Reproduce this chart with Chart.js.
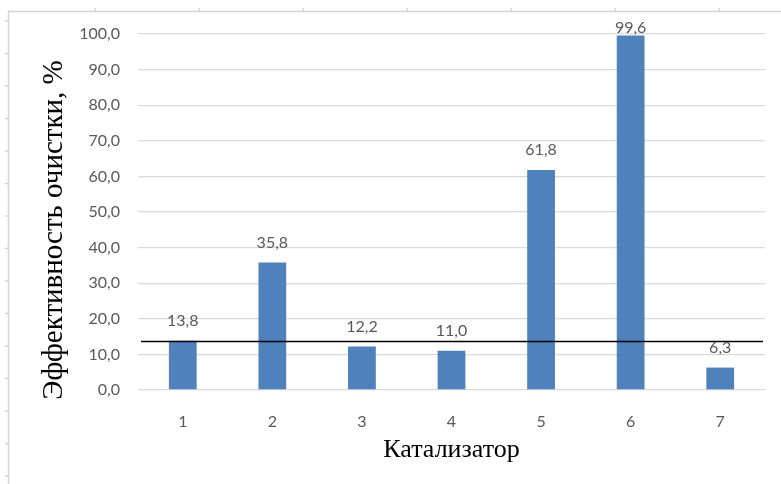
<!DOCTYPE html>
<html>
<head>
<meta charset="utf-8">
<script src="https://cdn.jsdelivr.net/npm/chart.js@4/dist/chart.umd.min.js"></script>
<style>
  html, body { margin: 0; padding: 0; background: #fff; }
  #wrap { width: 781px; height: 484px; position: relative; }
</style>
</head>
<body>
<div id="wrap"><canvas id="chart"></canvas></div>
<script>
// data
const categories = ['1', '2', '3', '4', '5', '6', '7']
const efficiency = [13.8, 35.8, 12.2, 11.0, 61.8, 99.6, 6.3]
const yTicks = [0, 10, 20, 30, 40, 50, 60, 70, 80, 90, 100]
const threshold = 13.8
const yTitle = 'Эффективность очистки, %'
const xTitle = 'Катализатор'

const fmt = v => v.toFixed(1).replace('.', ',')

// page frame around the picture (ruler-like lines of the document)
const framePlugin = {
  id: 'frame',
  beforeDraw(chart) {
    const ctx = chart.ctx
    ctx.save()
    ctx.strokeStyle = '#d4d4d4'
    ctx.lineWidth = 1.5
    ctx.beginPath()
    ctx.moveTo(8, 11.5)
    ctx.lineTo(chart.width, 11.5)
    ctx.moveTo(8.5, 11)
    ctx.lineTo(8.5, chart.height)
    for (let x = 95; x < chart.width; x += 104) {
      ctx.moveTo(x, 8)
      ctx.lineTo(x, 11)
    }
    for (let y = 21; y < chart.height; y += 32.5) {
      ctx.moveTo(5, y)
      ctx.lineTo(8, y)
    }
    ctx.stroke()
    ctx.restore()
  }
}

const extrasPlugin = {
  id: 'extras',
  afterDatasetsDraw(chart) {
    const ctx = chart.ctx
    const area = chart.chartArea
    const y = chart.scales.y
    ctx.save()
    // horizontal reference line
    const ly = Math.round(y.getPixelForValue(threshold)) + 0.5
    ctx.strokeStyle = '#000'
    ctx.lineWidth = 1.5
    ctx.beginPath()
    ctx.moveTo(area.left + 3, ly)
    ctx.lineTo(area.right - 2, ly)
    ctx.stroke()
    // value labels
    ctx.font = '16px Lato'
    ctx.fillStyle = '#595959'
    ctx.textAlign = 'center'
    ctx.textBaseline = 'middle'
    chart.getDatasetMeta(0).data.forEach((bar, i) => {
      ctx.fillText(fmt(efficiency[i]), bar.x, Math.max(bar.y - 20, 28))
    })
    // y axis title
    ctx.font = '29px "Liberation Serif"'
    ctx.fillStyle = '#000'
    ctx.translate(54, (area.top + area.bottom) / 2 + 18)
    ctx.rotate(-Math.PI / 2)
    ctx.fillText(yTitle, 0, 0)
    ctx.restore()
  }
}

new Chart(document.getElementById('chart'), {
  type: 'bar',
  data: {
    labels: categories,
    datasets: [{
      data: efficiency,
      backgroundColor: '#4f81bd',
      borderWidth: 0,
      barPercentage: 0.31,
      categoryPercentage: 1
    }]
  },
  options: {
    animation: false,
    responsive: true,
    maintainAspectRatio: false,
    layout: {
      padding: { left: 0, right: 16, top: 34, bottom: 0 }
    },
    plugins: {
      legend: { display: false },
      tooltip: { enabled: false }
    },
    scales: {
      x: {
        grid: { display: false },
        border: { display: false },
        ticks: {
          color: '#595959',
          font: { family: 'Lato', size: 16 },
          padding: 14
        },
        title: {
          display: true,
          text: xTitle,
          color: '#000',
          font: { family: 'Liberation Serif', size: 26 },
          padding: { top: 0, bottom: 18 }
        },
        afterFit(scale) { scale.height = 94 }
      },
      y: {
        min: 0,
        max: 100,
        afterBuildTicks(scale) {
          scale.ticks = yTicks.map(v => ({ value: v }))
        },
        grid: { color: '#d9d9d9', lineWidth: 1.3, drawTicks: false },
        border: { display: false },
        ticks: {
          color: '#595959',
          font: { family: 'Lato', size: 16 },
          padding: 18,
          callback: v => fmt(v)
        },
        afterFit(scale) { scale.width = 138 }
      }
    }
  },
  plugins: [framePlugin, extrasPlugin]
})
</script>
</body>
</html>
